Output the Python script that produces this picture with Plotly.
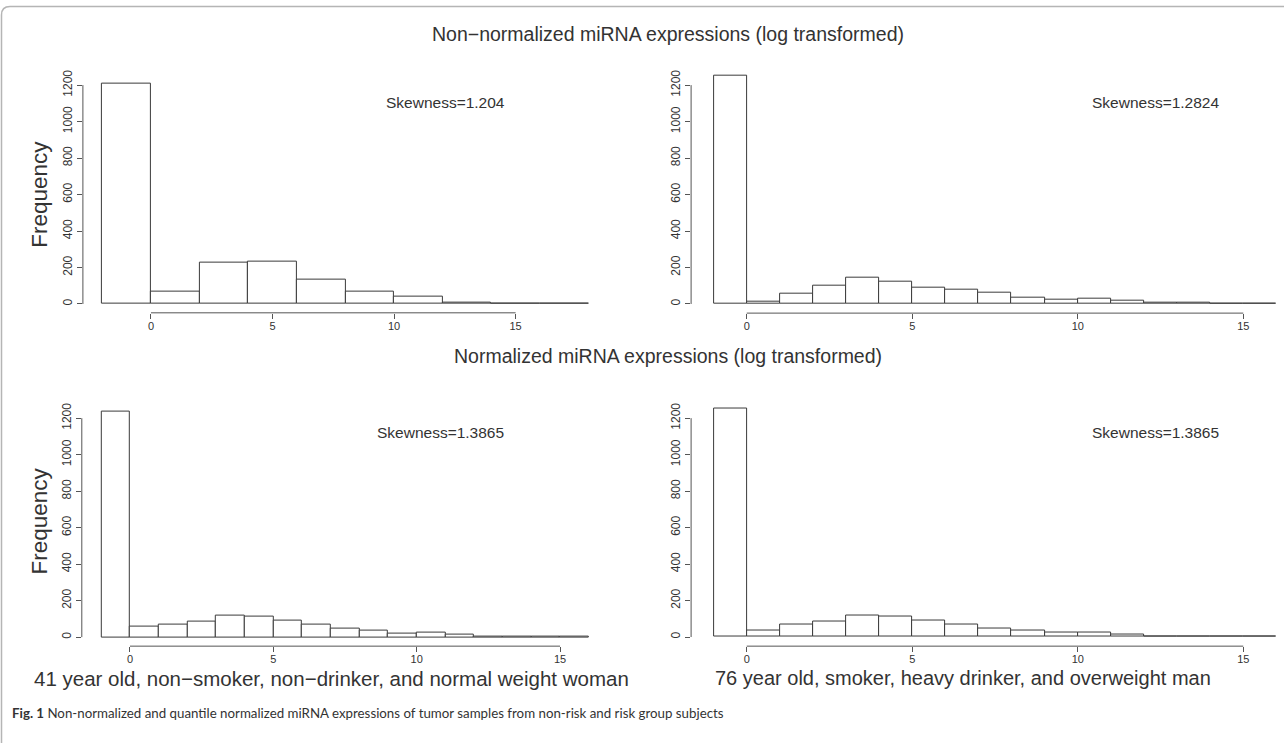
import plotly.graph_objects as go

# ---------------- data ----------------
# Top-left: non-normalized, non-risk subject (bin width 2)
tl_edges = [-2, 0, 2, 4, 6, 8, 10, 12, 14, 16, 18]
tl_counts = [1209, 67, 228, 234, 132, 67, 42, 9, 4, 1]

# Top-right: non-normalized, risk subject (bin width 1)
tr_edges = list(range(-1, 17))
tr_counts = [1251, 14, 56, 98, 143, 120, 92, 76, 60, 33, 25, 27, 16, 5, 5, 2, 1]

# Bottom-left: normalized, non-risk subject
bl_edges = list(range(-1, 17))
bl_counts = [1236, 56, 67, 87, 120, 114, 91, 67, 49, 38, 22, 25, 16, 5, 4, 4, 2]

# Bottom-right: normalized, risk subject
br_edges = list(range(-1, 17))
br_counts = [1252, 38, 67, 87, 120, 114, 91, 67, 49, 38, 22, 27, 16, 5, 4, 3, 1]

skew_labels = ["Skewness=1.204", "Skewness=1.2824", "Skewness=1.3865", "Skewness=1.3865"]
x_ticks = [0, 5, 10, 15]
y_ticks = [0, 200, 400, 600, 800, 1000, 1200]

title_top = "Non\u2212normalized miRNA expressions (log transformed)"
title_bottom = "Normalized miRNA expressions (log transformed)"
sub_left = "41 year old, non\u2212smoker, non\u2212drinker, and normal weight woman"
sub_right = "76 year old, smoker, heavy drinker, and overweight man"
caption = "<b>Fig. 1</b> Non-normalized and quantile normalized miRNA expressions of tumor samples from non-risk and risk group subjects"

# ---------------- layout helpers ----------------
W, H = 1284, 743
FONT = "Liberation Sans, Arial, Helvetica, sans-serif"
INK = "#333333"


def dx(px):
    return px / W


def dy(py):
    return 1 - py / H


# pixel boxes (left, right, top, bottom) and x ranges for each panel
panels = [
    dict(edges=tl_edges, counts=tl_counts, box=(82.9, 608.0, 70.1, 309.9), xr=[-2.8, 18.8]),
    dict(edges=tr_edges, counts=tr_counts, box=(691.1, 1284.0, 62.1, 310.2), xr=[-1.68, 16.23]),
    dict(edges=bl_edges, counts=bl_counts, box=(81.8, 608.2, 400.3, 645.5), xr=[-1.68, 16.68]),
    dict(edges=br_edges, counts=br_counts, box=(691.1, 1284.0, 397.2, 645.5), xr=[-1.68, 16.23]),
]

fig = go.Figure()
layout = dict(
    width=W, height=H,
    margin=dict(l=0, r=0, t=0, b=0),
    paper_bgcolor="white", plot_bgcolor="white",
    showlegend=False,
    font=dict(family=FONT, color=INK),
    bargap=0,
)
shapes = []
annotations = []

for i, p in enumerate(panels, start=1):
    xa = "x" if i == 1 else f"x{i}"
    ya = "y" if i == 1 else f"y{i}"
    e = p["edges"]
    c = p["counts"]
    centers = [(e[k] + e[k + 1]) / 2 for k in range(len(c))]
    widths = [e[k + 1] - e[k] for k in range(len(c))]
    fig.add_trace(go.Bar(
        x=centers, y=c, width=widths,
        marker=dict(color="white", line=dict(color="#3a3a3a", width=1)),
        xaxis=xa, yaxis=ya, hoverinfo="x+y",
    ))
    l, r, t, b = p["box"]
    ymax = max(c)
    common = dict(showgrid=False, zeroline=False, showline=False,
                  ticks="outside", tickwidth=1, tickcolor="#555")
    layout[f"xaxis{'' if i == 1 else i}"] = dict(
        domain=[dx(l), dx(r)], range=p["xr"], anchor=ya, ticklabelstandoff=-2, ticklen=5,
        tickvals=x_ticks, tickfont=dict(size=11, color=INK, family=FONT), **common)
    layout[f"yaxis{'' if i == 1 else i}"] = dict(
        domain=[dy(b), dy(t)], range=[-0.04 * ymax, 1.04 * ymax], anchor=xa, ticklen=5,
        tickvals=y_ticks, tickangle=-90, tickfont=dict(size=12, color=INK, family=FONT), **common)
    # R-style axis lines spanning only the tick range
    shapes.append(dict(type="line", xref=xa, yref=f"{ya} domain",
                       x0=x_ticks[0], x1=x_ticks[-1], y0=0, y1=0,
                       line=dict(color="#555", width=1)))
    shapes.append(dict(type="line", xref=f"{xa} domain", yref=ya,
                       x0=0, x1=0, y0=y_ticks[0], y1=y_ticks[-1],
                       line=dict(color="#555", width=1)))

# skewness labels
for (cx, cy), txt in zip([(445, 98), (1155, 98), (440, 430), (1155, 430)], skew_labels):
    annotations.append(dict(x=dx(cx), y=dy(cy), xref="paper", yref="paper", text=txt,
                            showarrow=False, xanchor="center", yanchor="middle",
                            font=dict(size=15.5, color=INK, family=FONT)))

# panel-row titles
annotations.append(dict(x=dx(668), y=dy(29), xref="paper", yref="paper", text=title_top,
                        showarrow=False, xanchor="center", yanchor="middle",
                        font=dict(size=19.5, color=INK, family=FONT)))
annotations.append(dict(x=dx(668), y=dy(353), xref="paper", yref="paper", text=title_bottom,
                        showarrow=False, xanchor="center", yanchor="middle",
                        font=dict(size=19.5, color=INK, family=FONT)))

# Frequency labels
for cy in (191, 520):
    annotations.append(dict(x=dx(40), y=dy(cy), xref="paper", yref="paper", text="Frequency",
                            showarrow=False, textangle=-90, xanchor="center", yanchor="middle",
                            font=dict(size=22.5, color=INK, family=FONT)))

# subtitles under the bottom panels
annotations.append(dict(x=dx(332), y=dy(678), xref="paper", yref="paper", text=sub_left,
                        showarrow=False, xanchor="center", yanchor="middle",
                        font=dict(size=20.5, color=INK, family=FONT)))
annotations.append(dict(x=dx(963), y=dy(678), xref="paper", yref="paper", text=sub_right,
                        showarrow=False, xanchor="center", yanchor="middle",
                        font=dict(size=20, color=INK, family=FONT)))

# figure caption
annotations.append(dict(x=dx(10), y=dy(713), xref="paper", yref="paper", text=caption,
                        showarrow=False, xanchor="left", yanchor="middle",
                        font=dict(size=13.3, color="#333", family="Lato, Open Sans, sans-serif")))

# light frame with rounded top-left corner
shapes.append(dict(type="path", xref="paper", yref="paper",
                   path=f"M {dx(1.5)},{dy(743)} L {dx(1.5)},{dy(10)} Q {dx(1.5)},{dy(1.5)} {dx(10)},{dy(1.5)} L {dx(1284)},{dy(1.5)}",
                   line=dict(color="#b5b5b5", width=1.5)))

layout["shapes"] = shapes
layout["annotations"] = annotations
fig.update_layout(**layout)

fig.write_html("out.html")
